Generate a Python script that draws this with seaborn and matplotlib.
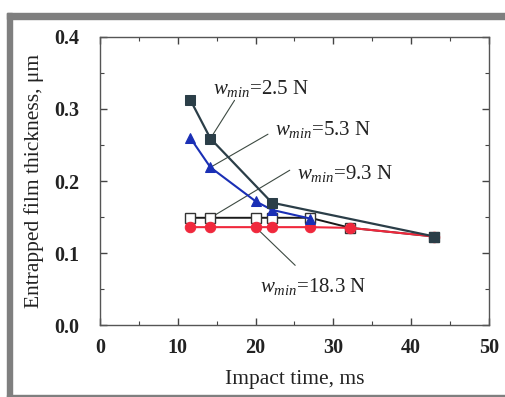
import matplotlib
matplotlib.use("Agg")
import matplotlib.pyplot as plt
import seaborn as sns
import pandas as pd
from matplotlib.patches import Rectangle
from matplotlib.ticker import MultipleLocator

# ---- data ----
x_25 = [11.6, 14.2, 22.1, 43.0]
y_25 = [0.313, 0.259, 0.170, 0.123]
x_53 = [11.6, 14.2, 20.0, 22.1, 27.0]
y_53 = [0.260, 0.219, 0.172, 0.160, 0.148]
x_93 = [11.6, 14.2, 20.0, 22.1, 27.0, 32.2, 43.0]
y_93 = [0.149, 0.149, 0.149, 0.149, 0.149, 0.135, 0.123]
x_183 = [11.6, 14.2, 20.0, 22.1, 27.0, 32.2, 43.0]
y_183 = [0.136, 0.136, 0.136, 0.136, 0.136, 0.135, 0.123]
labels = ["2.5 N", "5.3 N", "9.3 N", "18.3 N"]
x_ticks = [0, 10, 20, 30, 40, 50]
y_ticks = [0.0, 0.1, 0.2, 0.3, 0.4]

sns.set_style("ticks")
plt.rcParams['font.family'] = ['Liberation Serif', 'DejaVu Serif']
plt.rcParams['mathtext.fontset'] = 'custom'
plt.rcParams['mathtext.rm'] = 'Liberation Serif'
plt.rcParams['mathtext.it'] = 'Liberation Serif:italic'

fig = plt.figure(figsize=(5.05, 3.97), dpi=100)
ax = fig.add_axes([0.198, 0.181, 0.770, 0.726])

# gray frame
fig.patches.append(Rectangle((7/505, 0), 5/505, 1 - 13/397, transform=fig.transFigure,
                             color="#7f7f7f", zorder=0))
fig.patches.append(Rectangle((7/505, 1 - 19/397), 1, 6/397, transform=fig.transFigure,
                             color="#7f7f7f", zorder=0))
fig.patches.append(Rectangle((7/505, 0), 1, 2.5/397, transform=fig.transFigure,
                             color="#7f7f7f", zorder=0))

c_dark = "#2b3e48"
c_blue = "#1a2fb5"
c_red = "#f0283c"

sns.lineplot(x=x_93, y=y_93, ax=ax, color="#1a1a1a", lw=1.4, marker="s", markersize=7,
             markerfacecolor="white", markeredgecolor="#333333", markeredgewidth=1.0, sort=False, zorder=3)
sns.lineplot(x=x_183, y=y_183, ax=ax, color=c_red, lw=1.5, marker="o", markersize=7.5,
             markerfacecolor=c_red, markeredgecolor=c_red, sort=False, zorder=4)
sns.lineplot(x=x_53, y=y_53, ax=ax, color=c_blue, lw=1.5, marker="^", markersize=7.5,
             markerfacecolor=c_blue, markeredgecolor=c_blue, sort=False, zorder=5)
sns.lineplot(x=x_25, y=y_25, ax=ax, color=c_dark, lw=1.6, marker="s", markersize=7,
             markerfacecolor=c_dark, markeredgecolor=c_dark, sort=False, zorder=6)

ax.set_xlim(0, 50)
ax.set_ylim(0, 0.4)
ax.set_xticks(x_ticks)
ax.set_yticks(y_ticks)
ax.set_xticklabels([str(t) for t in x_ticks])
ax.set_yticklabels([f"{t:.1f}" for t in y_ticks])
ax.xaxis.set_minor_locator(MultipleLocator(5))
ax.yaxis.set_minor_locator(MultipleLocator(0.05))
ax.tick_params(which="both", direction="in", top=True, right=True, colors="#444444",
               labelcolor="#222222")
ax.tick_params(which="major", length=5, width=1.0, labelsize=14.5)
ax.tick_params(axis="y", which="major", pad=15)
ax.tick_params(axis="x", which="major", pad=9)
ax.tick_params(which="minor", length=3, width=0.8)
for lab in ax.get_xticklabels() + ax.get_yticklabels():
    lab.set_fontweight("bold")
for s in ax.spines.values():
    s.set_color("#555555")
    s.set_linewidth(1.0)

ax.set_xlabel("Impact time, ms", fontsize=15.5, color="#222222", labelpad=9)
ax.set_ylabel("Entrapped film thickness, μm", fontsize=15.5, color="#222222", labelpad=7)

# annotations
lc = "#3d4a42"
ann = [
    (labels[0], (14.5, 0.329), (17.3, 0.312), (14.2, 0.259)),
    (labels[1], (22.5, 0.271), (21.6, 0.265), (14.2, 0.219)),
    (labels[2], (25.3, 0.211), (24.4, 0.215), (14.2, 0.149)),
    (labels[3], (20.6, 0.053), (25.1, 0.083), (20.0, 0.136)),
]
for lab, tpos, lstart, lend in ann:
    ax.text(tpos[0], tpos[1], r"$w_{min}$=" + lab, fontsize=15, color="#222222",
            ha="left", va="center", zorder=8)
    ax.plot([lstart[0], lend[0]], [lstart[1], lend[1]], color=lc, lw=0.8, zorder=2)

fig.savefig("out.png", dpi=100)
